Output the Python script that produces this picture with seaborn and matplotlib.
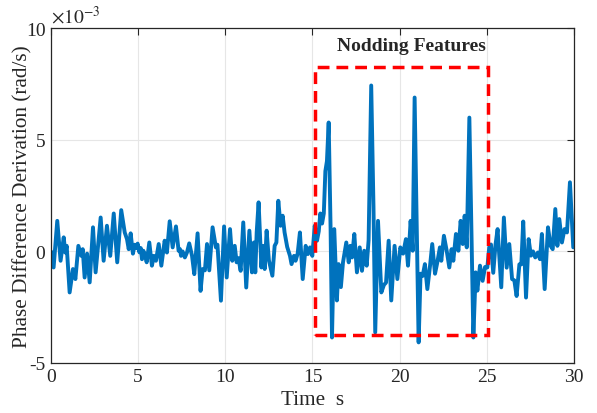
import matplotlib
matplotlib.use("Agg")
import matplotlib.pyplot as plt
import matplotlib.patches as mpatches
import seaborn as sns
import pandas as pd

# time (s) and phase difference derivation (x1e-3 rad/s)
time_s = [0, 0.15, 0.36, 0.55, 0.73, 0.82, 0.90, 1.07, 1.26, 1.40, 1.57, 1.74, 1.82, 1.93,
          2.07, 2.22, 2.41, 2.56, 2.85, 3.02, 3.21, 3.40, 3.60, 3.80, 4.03, 4.23, 4.36, 4.46,
          4.57, 4.70, 4.80, 4.88, 4.97, 5.07, 5.15, 5.22, 5.30, 5.40, 5.49, 5.64, 5.79, 5.90,
          6.02, 6.18, 6.33, 6.52, 6.65, 6.81, 6.98, 7.17, 7.32, 7.40, 7.46, 7.55, 7.68, 7.80,
          7.93, 8.09, 8.22, 8.41, 8.58, 8.70, 8.83, 8.95, 9.08, 9.27, 9.46, 9.55, 9.75, 9.93,
          10.08, 10.27, 10.40, 10.54, 10.65, 10.75, 10.88, 11.03, 11.20, 11.38, 11.53, 11.64,
          11.72, 11.80, 11.91, 12.07, 12.16, 12.26, 12.37, 12.50, 12.70, 12.83, 12.93, 13.04,
          13.17, 13.29, 13.40, 13.55, 13.71, 13.80, 13.94, 14.03, 14.15, 14.28, 14.44, 14.61,
          14.74, 14.86, 14.99, 15.13, 15.26, 15.36, 15.45, 15.55, 15.65, 15.74, 15.83, 15.93,
          16.04, 16.12, 16.25, 16.40, 16.50, 16.63, 16.75, 16.94, 17.08, 17.17, 17.27, 17.40,
          17.55, 17.71, 17.84, 17.97, 18.11, 18.22, 18.37, 18.50, 18.60, 18.76, 18.95, 19.10,
          19.22, 19.37, 19.52, 19.71, 19.87, 20.04, 20.20, 20.36, 20.48, 20.63, 20.75, 20.86,
          21.09, 21.20, 21.32, 21.45, 21.59, 21.75, 21.87, 22.03, 22.16, 22.31, 22.39, 22.54,
          22.70, 22.85, 22.98, 23.08, 23.23, 23.37, 23.50, 23.62, 23.73, 23.85, 24.00, 24.23,
          24.36, 24.46, 24.61, 24.76, 24.90, 25.03, 25.14, 25.24, 25.37, 25.50, 25.62, 25.83,
          25.98, 26.14, 26.29, 26.45, 26.58, 26.71, 26.87, 26.98, 27.09, 27.25, 27.40, 27.53,
          27.65, 27.78, 27.93, 28.05, 28.16, 28.32, 28.51, 28.66, 28.78, 28.93, 29.05, 29.16,
          29.31, 29.46, 29.60, 29.77, 29.96, 30.0]
phase_deriv = [0, -0.72, 1.37, -0.42, 0.63, -0.05, 0.25, -1.84, -0.79, -1.24, 0.25, -0.2, 0.1, -1.17,
               -0.1, -1.39, 1.08, -0.94, 1.52, -0.42, 1.15, -0.2, 1.7, -0.49, 1.85, 0.85, 0.55, 0.1,
               0.81, -0.1, 0.3, 0.15, 0.35, -0.04, 0.15, -0.35, 0.03, -0.2, -0.49, 0.4, -0.64, -0.2,
               -0.42, 0.33, -0.64, 0.48, -0.05, 1.35, 0.18, 1.12, 0.03, 0.1, -0.2, 0, -0.27, -0.05,
               0.36, -0.19, -1.02, 0.81, -1.77, -0.79, -0.85, 0.33, -0.85, 1.08, 0.18, 0.3, -2.21, 1.12,
               -1.17, 1.0, -0.42, 0.25, -0.49, -0.3, -0.87, 1.3, -1.62, 0.93, -0.94, 0.4,
               -0.94, 0.85, 2.2, -0.72, 0.25, -0.79, 0.93, -0.4, -1.09, 0.25, 0.4, 2.27,
               1.15, 1.6, 0.85, 0.2, -0.2, -0.57, -0.2, -0.42, -0.1, 0.85, -1.24, 0.25,
               -0.12, 0.18, -0.2, 1.15, 0.48, 0.9, 1.7, 1.25, 1.7, 3.6, 4.05, 5.78,
               1.0, -3.86, 1.0, -2.2, -0.57, -1.6, -0.5, 0.4, -0.49, 0.25, -0.27, 0.78,
               -0.94, 0.18, -0.87, 0.03, -0.64, 0.5, 7.44, 2.0, -3.63, 1.37, -1.84, -1.5,
               -1.4, 0.48, -2.2, 0.25, -1.24, 0.18, -0.1, 0.55, -0.64, 1.37, 0.03, 6.9,
               -4.08, -1.0, -1.1, -0.57, -1.69, -0.6, 0.33, -1.0, -0.5, 0.18, -0.42, 0.7,
               0.03, -0.72, 0.1, -0.42, 0.78, 0.03, 1.37, 0.33, 1.6, 0.18, 6.0, -3.86,
               -0.94, -1.76, -0.64, -1.32, -0.7, -0.72, 0.18, 0.31, -0.96, 0.3, 1.0, -1.61,
               1.52, -0.73, 0.33, -1.24, -1.3, -2.0, -0.58, -0.58, 1.34, -2.07, 0.55, -0.19,
               0.0, -0.27, -0.05, -0.35, 0.78, -1.69, 1.08, 0.25, 0.1, 1.9, 0.25, 1.45,
               0.4, 1.0, 0.85, 3.1, 0.18, 0.2]

x_ticks = [0, 5, 10, 15, 20, 25, 30]
y_ticks = [-5, 0, 5, 10]
box_t = [15.13, 25.05]
box_y = [-3.75, 8.25]
annotation = "Nodding Features"

sns.set_style("whitegrid")
plt.rcParams["font.family"] = ["Liberation Serif", "DejaVu Serif"]
plt.rcParams["mathtext.fontset"] = "stix"
plt.rcParams["axes.unicode_minus"] = False

fig = plt.figure(figsize=(5.97, 4.14), dpi=100)
ax = fig.add_axes([0.0854, 0.121, 0.876, 0.808])

df = pd.DataFrame({"t": time_s, "v": phase_deriv})
sns.lineplot(data=df, x="t", y="v", ax=ax, color="#0072BD", linewidth=2.8,
             sort=False, estimator=None)

rect = mpatches.Rectangle((box_t[0], box_y[0]), box_t[1] - box_t[0], box_y[1] - box_y[0],
                          fill=False, edgecolor="#FF0000", linewidth=2.5,
                          linestyle=(0, (3.4, 2.0)), zorder=3)
ax.add_patch(rect)
ax.text(20.65, 9.25, annotation, fontsize=14, fontweight="bold", ha="center", va="center",
        color="#262626")

ax.set_xlim(0, 30)
ax.set_ylim(-5, 10)
ax.set_xticks(x_ticks)
ax.set_yticks(y_ticks)
ax.set_xticklabels([str(v) for v in x_ticks])
ax.set_yticklabels([str(v) for v in y_ticks])
ax.set_xlabel("Time  s", fontsize=15.3, labelpad=3)
ax.set_ylabel("Phase Difference Derivation (rad/s)", fontsize=15.3, labelpad=-5)
ax.tick_params(axis="both", labelsize=14, direction="in", length=5, width=0.8,
               colors="#262626", top=True, right=True, pad=4)
ax.grid(True, color="#E6E6E6", linewidth=0.8)
for s in ax.spines.values():
    s.set_visible(True)
    s.set_color("#262626")
    s.set_linewidth(0.9)
ax.text(0.0, 1.005, r"$\times 10^{-3}$", transform=ax.transAxes, fontsize=14,
        ha="left", va="bottom", color="#262626")

fig.savefig("out.png", dpi=100)
